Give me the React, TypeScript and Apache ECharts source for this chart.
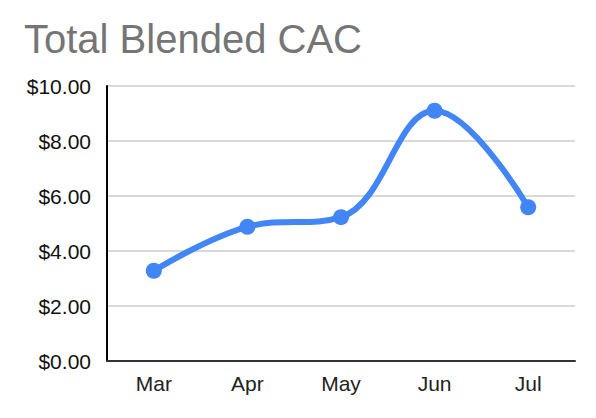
import { useEffect, useRef } from 'react';
import * as echarts from 'echarts';

const months = ['Mar', 'Apr', 'May', 'Jun', 'Jul'];
const cac = [3.28, 4.88, 5.23, 9.1, 5.59];
const chartTitle = 'Total Blended CAC';

const FONT = 'Arial, "Liberation Sans", sans-serif';

export default function App() {
  const chartRef = useRef<HTMLDivElement>(null);

  useEffect(() => {
    if (!chartRef.current) return;
    document.body.style.margin = '0';

    const chart = echarts.init(chartRef.current, null, { renderer: 'svg' });

    const option = {
      animation: false,
      backgroundColor: '#fff',
      title: {
        text: chartTitle,
        left: 19,
        top: 14,
        textStyle: {
          color: '#757575',
          fontSize: 40,
          fontWeight: 'normal',
          fontFamily: FONT,
        },
      },
      grid: {
        left: 107,
        right: 21,
        top: 86,
        bottom: 57,
      },
      xAxis: {
        type: 'category',
        data: months,
        boundaryGap: true,
        axisLine: { show: true, lineStyle: { color: '#333', width: 2 } },
        axisTick: { show: false },
        axisLabel: {
          color: '#222',
          fontSize: 21,
          fontFamily: FONT,
          margin: 12,
        },
      },
      yAxis: {
        type: 'value',
        min: 0,
        max: 10,
        interval: 2,
        axisLine: { show: true, lineStyle: { color: '#000', width: 2 } },
        axisTick: { show: false },
        splitLine: { lineStyle: { color: '#cccccc', width: 1.5 } },
        axisLabel: {
          color: '#111',
          fontSize: 21,
          fontFamily: FONT,
          margin: 16,
          formatter: (v: number) => '$' + v.toFixed(2),
        },
      },
      series: [
        {
          name: chartTitle,
          type: 'line',
          data: cac,
          smooth: 0.4,
          symbol: 'circle',
          symbolSize: 16,
          lineStyle: { color: '#4285f4', width: 6 },
          itemStyle: { color: '#4285f4' },
        },
      ],
    };

    chart.setOption(option);

    return () => {
      chart.dispose();
    };
  }, []);

  return <div ref={chartRef} style={{ width: '596px', height: '418px' }} />;
}
